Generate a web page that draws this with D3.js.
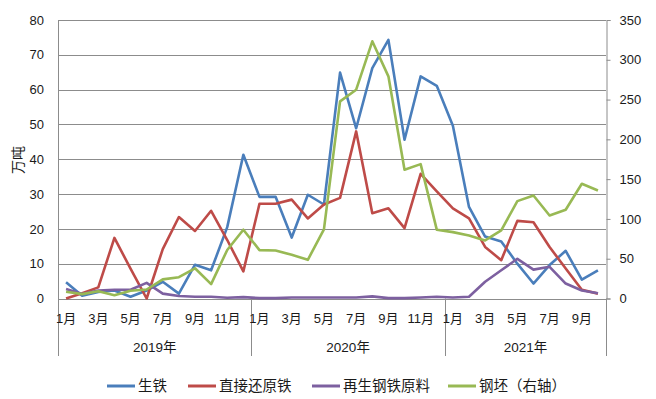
<!DOCTYPE html>
<html>
<head>
<meta charset="utf-8">
<script src="https://cdn.jsdelivr.net/npm/d3@7"></script>
<style>
  body { margin: 0; background: #fff; }
  svg { display: block; font-family: "Liberation Sans", "Noto Sans CJK SC", sans-serif; }
</style>
</head>
<body>
<svg id="chart" width="656" height="399"></svg>
<script>
// months Jan 2019 .. Oct 2021
var years = ["2019年", "2020年", "2021年"];
var yearLengths = [12, 12, 10];
var monthLabels = ["1月","2月","3月","4月","5月","6月","7月","8月","9月","10月","11月","12月"];

var pigIron = [4.7, 0.8, 1.9, 2.3, 0.5, 2.3, 4.8, 1.4, 9.7, 8.1, 20.5, 41.3,
               29.2, 29.2, 17.5, 29.8, 27.0, 64.9, 48.9, 66.2, 74.3, 45.6, 63.8, 61.1,
               49.6, 26.3, 17.8, 16.4, 10.0, 4.3, 9.6, 13.7, 5.4, 8.1];
var dri = [0, 1.5, 3.2, 17.4, 8.6, 0, 14.2, 23.4, 19.4, 25.2, 16.8, 7.8,
           27.2, 27.2, 28.4, 23.0, 27.0, 28.9, 48.0, 24.5, 25.9, 20.2, 35.8, 30.8,
           25.9, 23.0, 14.8, 11.0, 22.3, 21.9, 14.8, 8.6, 2.5, 1.4];
var recycled = [2.7, 1.3, 2.3, 2.5, 2.5, 4.5, 1.4, 0.7, 0.5, 0.5, 0.2, 0.4,
                0.1, 0.1, 0.3, 0.3, 0.3, 0.3, 0.3, 0.6, 0.1, 0.1, 0.3, 0.5,
                0.3, 0.5, 4.8, 8.1, 11.4, 8.3, 9.1, 4.3, 2.3, 1.5];
var billet = [8.5, 5.5, 9.2, 4.2, 9.8, 11.3, 24.0, 26.8, 38.0, 18.0, 61.0, 86.4,
              60.8, 60.4, 54.9, 48.6, 86.8, 247.7, 262.4, 323.2, 279.2, 161.8, 168.9, 86.5,
              83.4, 79.2, 73.0, 85.5, 122.4, 129.5, 104.3, 111.5, 144.2, 135.8];

var leftTicks = [0, 10, 20, 30, 40, 50, 60, 70, 80];
var rightTicks = [0, 50, 100, 150, 200, 250, 300, 350];

var series = [
  { name: "生铁", values: pigIron, color: "#4a7ebb", axis: "left" },
  { name: "直接还原铁", values: dri, color: "#be4b48", axis: "left" },
  { name: "再生钢铁原料", values: recycled, color: "#7d60a0", axis: "left" },
  { name: "钢坯（右轴）", values: billet, color: "#98b954", axis: "right" }
];

var legendX = [107, 188, 312, 448];

(function() {
  var svg = d3.select("#chart");
  var pl = 58, pr = 606, pt = 20, pb = 298.5;
  var n = pigIron.length;

  var x = d3.scaleBand().domain(d3.range(n)).range([pl, pr]);
  var yL = d3.scaleLinear().domain([0, 80]).range([pb, pt]);
  var yR = d3.scaleLinear().domain([0, 350]).range([pb, pt]);
  var cx = function(i) { return x(i) + x.bandwidth() / 2; };

  // gridlines
  svg.append("g").selectAll("line").data(leftTicks.slice(1)).join("line")
    .attr("x1", pl).attr("x2", pr)
    .attr("y1", function(d) { return Math.round(yL(d)) + 0.5; })
    .attr("y2", function(d) { return Math.round(yL(d)) + 0.5; })
    .attr("stroke", "#8c8c8c").attr("stroke-width", 1);

  // left axis
  var gl = svg.append("g").attr("transform", "translate(" + pl + ",0)")
    .call(d3.axisLeft(yL).tickValues(leftTicks).tickSize(0).tickPadding(14));
  gl.select(".domain").remove();
  gl.selectAll("text").attr("font-size", 13).attr("fill", "#1a1a1a");

  // right axis
  var gr = svg.append("g").attr("transform", "translate(" + (pr + 0.5) + ",0)")
    .call(d3.axisRight(yR).tickValues(rightTicks).tickSize(4).tickPadding(9));
  gr.select(".domain").attr("stroke", "#8c8c8c");
  gr.selectAll("line").attr("stroke", "#8c8c8c");
  gr.selectAll("text").attr("font-size", 13).attr("fill", "#1a1a1a");

  // category axis
  svg.append("line").attr("x1", pl).attr("x2", pr)
    .attr("y1", Math.round(pb) + 0.5).attr("y2", Math.round(pb) + 0.5)
    .attr("stroke", "#8c8c8c");

  var starts = [0];
  yearLengths.forEach(function(l, i) { starts.push(starts[i] + l); });
  svg.append("g").selectAll("line").data(starts).join("line")
    .attr("x1", function(d) { return Math.round(d < n ? x(d) : pr) + 0.5; })
    .attr("x2", function(d) { return Math.round(d < n ? x(d) : pr) + 0.5; })
    .attr("y1", function(d) { return d === 0 ? pt : pb; })
    .attr("y2", 356)
    .attr("stroke", "#8c8c8c");

  var monthIdx = d3.range(n).filter(function(i) { return i % 2 === 0; });
  svg.append("g").selectAll("text").data(monthIdx).join("text")
    .attr("x", cx).attr("y", 323)
    .attr("text-anchor", "middle").attr("font-size", 13).attr("fill", "#1a1a1a")
    .text(function(i) { return monthLabels[i % 12]; });

  svg.append("g").selectAll("text").data(years).join("text")
    .attr("x", function(d, i) {
      var a = x(starts[i]), b = starts[i + 1] < n ? x(starts[i + 1]) : pr;
      return (a + b) / 2;
    })
    .attr("y", 352)
    .attr("text-anchor", "middle").attr("font-size", 13.5).attr("fill", "#1a1a1a")
    .text(function(d) { return d; });

  // y title
  svg.append("text").attr("transform", "translate(23,160) rotate(-90)")
    .attr("text-anchor", "middle").attr("font-size", 14).attr("fill", "#1a1a1a")
    .text("万吨");

  // lines
  var line = function(s) {
    var y = s.axis === "left" ? yL : yR;
    return d3.line().x(function(d, i) { return cx(i); }).y(function(d) { return y(d); })(s.values);
  };
  svg.append("g").selectAll("path").data(series).join("path")
    .attr("d", line).attr("fill", "none")
    .attr("stroke", function(s) { return s.color; })
    .attr("stroke-width", 2.6).attr("stroke-linejoin", "round");

  // legend
  var lg = svg.append("g").selectAll("g").data(series).join("g")
    .attr("transform", function(d, i) { return "translate(" + legendX[i] + ",391)"; });
  lg.append("line").attr("x1", 0).attr("x2", 28).attr("y1", -5).attr("y2", -5)
    .attr("stroke", function(s) { return s.color; }).attr("stroke-width", 3);
  lg.append("text").attr("x", 31).attr("y", 0).attr("font-size", 14.5).attr("fill", "#1a1a1a")
    .text(function(s) { return s.name; });
})();
</script>
</body>
</html>
